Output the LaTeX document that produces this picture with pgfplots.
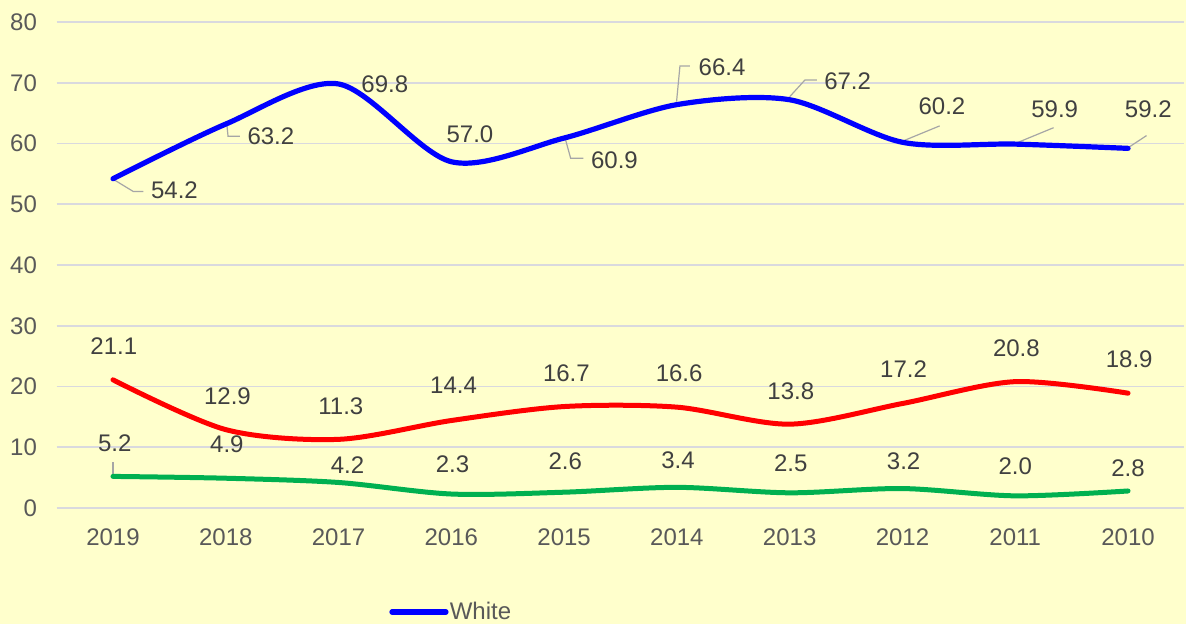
\documentclass[border=0pt]{standalone}
\usepackage{fontspec}
\setmainfont{Liberation Sans}
\usepackage{pgfplots}
\pgfplotsset{compat=1.18}
\definecolor{bgyellow}{HTML}{FFFFCC}
\definecolor{gridgray}{HTML}{D9D9DE}
\definecolor{ticktext}{HTML}{595959}
\definecolor{labtext}{HTML}{404040}
\definecolor{leader}{HTML}{A6A6A6}
\definecolor{lblue}{HTML}{0000FF}
\definecolor{lred}{HTML}{FF0000}
\definecolor{lgreen}{HTML}{00B050}

\begin{document}
\begin{tikzpicture}
\path[fill=bgyellow, use as bounding box] (-28.3pt,-58pt) rectangle (564.7pt,254pt);
\begin{axis}[
  at={(0,0)}, anchor=south west,
  scale only axis,
  width=563.9pt, height=243pt,
  xmin=-0.5, xmax=9.5,
  ymin=0, ymax=80,
  ytick={0,10,...,80},
  xtick={0,...,9},
  xticklabels={2019,2018,2017,2016,2015,2014,2013,2012,2011,2010},
  axis line style={draw=none},
  major tick length=0pt,
  ymajorgrids,
  grid style={gridgray, line width=0.8pt},
  tick label style={font=\fontsize{12}{14}\selectfont, text=ticktext},
  /pgf/number format/assume math mode=true,
  xticklabel style={yshift=-6.8pt},
  yticklabel style={xshift=-6.3pt},
  clip=false,
  legend style={at={(axis description cs:0.2947,-0.214)}, anchor=west,
    draw=none, fill=none, inner sep=0pt,
    font=\fontsize{12}{14}\selectfont, text=ticktext,
    nodes={inner sep=0.6pt}},
  legend image code/.code={\draw[#1, line width=2.6pt] (0pt,0pt) -- (27pt,0pt);},
]
% leader lines
\draw[leader, line width=0.6pt] (axis cs:0.003,54.1) -- (axis cs:0.18,52.1) -- (axis cs:0.27,52.1);
\draw[leader, line width=0.6pt] (axis cs:1.008,63.4) -- (axis cs:1.02,61.2) -- (axis cs:1.126,61.2);
\draw[leader, line width=0.6pt] (axis cs:4.007,61.0) -- (axis cs:4.058,57.56) -- (axis cs:4.17,57.56);
\draw[leader, line width=0.6pt] (axis cs:4.997,66.9) -- (axis cs:5.027,72.76) -- (axis cs:5.115,72.76);
\draw[leader, line width=0.6pt] (axis cs:6.0,67.7) -- (axis cs:6.135,70.45) -- (axis cs:6.24,70.45);
\draw[leader, line width=0.6pt] (axis cs:6.99,60.3) -- (axis cs:7.33,62.9);
\draw[leader, line width=0.6pt] (axis cs:8.0,60.0) -- (axis cs:8.34,62.6);
\draw[leader, line width=0.6pt] (axis cs:9.0,59.3) -- (axis cs:9.164,61.3);
\draw[leader, line width=0.6pt] (axis cs:0,7.57) -- (axis cs:0,5.6);

\addplot[lblue, line width=2.6pt, line cap=round, smooth, mark=none] coordinates {
  (0,54.2) (1,63.2) (2,69.8) (3,57.0) (4,60.9) (5,66.4) (6,67.2) (7,60.2) (8,59.9) (9,59.2)
};
\addlegendentry{White}
\addplot[lred, line width=2.5pt, line cap=round, smooth, mark=none, forget plot] coordinates {
  (0,21.1) (1,12.9) (2,11.3) (3,14.4) (4,16.7) (5,16.6) (6,13.8) (7,17.2) (8,20.8) (9,18.9)
};
\addplot[lgreen, line width=2.5pt, line cap=round, smooth, mark=none, forget plot] coordinates {
  (0,5.2) (1,4.9) (2,4.2) (3,2.3) (4,2.6) (5,3.4) (6,2.5) (7,3.2) (8,2.0) (9,2.8)
};

% data labels
\begin{scope}[every node/.style={font=\fontsize{12}{14}\selectfont, text=labtext, inner sep=0pt, anchor=center}]
\node at (axis cs:0.545,52.26) {54.2};
\node at (axis cs:1.40,61.12) {63.2};
\node at (axis cs:2.41,69.8) {69.8};
\node at (axis cs:3.165,61.56) {57.0};
\node at (axis cs:4.446,57.2) {60.9};
\node at (axis cs:5.40,72.6) {66.4};
\node at (axis cs:6.514,70.3) {67.2};
\node at (axis cs:7.35,66.1) {60.2};
\node at (axis cs:8.35,65.7) {59.9};
\node at (axis cs:9.18,65.6) {59.2};

\node at (axis cs:0.007,26.63) {21.1};
\node at (axis cs:1.015,18.40) {12.9};
\node at (axis cs:2.02,16.82) {11.3};
\node at (axis cs:3.02,20.13) {14.4};
\node at (axis cs:4.02,22.26) {16.7};
\node at (axis cs:5.02,22.17) {16.6};
\node at (axis cs:6.01,19.21) {13.8};
\node at (axis cs:7.01,22.93) {17.2};
\node at (axis cs:8.01,26.29) {20.8};
\node at (axis cs:9.01,24.53) {18.9};

\node at (axis cs:0.016,10.73) {5.2};
\node at (axis cs:1.01,10.42) {4.9};
\node at (axis cs:2.08,7.13) {4.2};
\node at (axis cs:3.01,7.19) {2.3};
\node at (axis cs:4.01,7.74) {2.6};
\node at (axis cs:5.01,7.90) {3.4};
\node at (axis cs:6.01,7.41) {2.5};
\node at (axis cs:7.01,7.74) {3.2};
\node at (axis cs:8.00,6.91) {2.0};
\node at (axis cs:9.00,6.47) {2.8};
\end{scope}
\end{axis}
\end{tikzpicture}
\end{document}
